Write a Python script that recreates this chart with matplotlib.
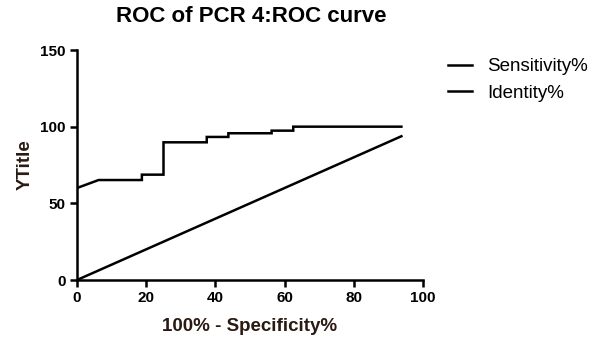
import numpy as np
import matplotlib
matplotlib.use("Agg")
import matplotlib.pyplot as plt

## ROC data (100% - Specificity%, Sensitivity%)
spec_x = [0, 6.25, 18.75, 18.75, 25, 25, 37.5, 37.5, 43.75, 43.75, 56.25, 56.25, 62.5, 62.5, 93.75]
sens_y = [60, 65.2, 65.2, 68.7, 68.7, 89.8, 89.8, 93.3, 93.3, 95.7, 95.7, 97.4, 97.4, 100, 100]
ident_x = [0, 93.75]
ident_y = [0, 93.75]

xticks = [0, 20, 40, 60, 80, 100]
yticks = [0, 50, 100, 150]

plt.rcParams['font.family'] = ['Liberation Sans', 'DejaVu Sans']

fig = plt.figure(figsize=(5.98, 3.43), dpi=100)
ax = fig.add_axes([77/598, 1 - 280/343, (423-77)/598, (280-50)/343])

ax.plot(spec_x, sens_y, color='black', lw=1.8, label='Sensitivity%', solid_joinstyle='miter')
ax.plot(ident_x, ident_y, color='black', lw=1.8, label='Identity%')

ax.set_xlim(0, 100)
ax.set_ylim(0, 150)
ax.set_xticks(xticks)
ax.set_yticks(yticks)
for s in ['top', 'right']:
    ax.spines[s].set_visible(False)
for s in ['left', 'bottom']:
    ax.spines[s].set_linewidth(1.8)
ax.tick_params(direction='out', length=5, width=1.8, labelsize=11, pad=3)
for lab in ax.get_xticklabels() + ax.get_yticklabels():
    lab.set_fontweight('bold')

ax.set_xlabel('100% - Specificity%', fontsize=13.5, fontweight='bold', color='#2a1a12', labelpad=9)
ax.set_ylabel('YTitle', fontsize=13.5, fontweight='bold', color='#2a1a12', labelpad=5)
fig.text(251/598, 1 - 16/343, 'ROC of PCR 4:ROC curve', fontsize=16, fontweight='bold',
         ha='center', va='center')

leg = fig.legend(loc='upper left', bbox_to_anchor=(448/598, 1 - 58/343), frameon=False,
                 fontsize=13.5, handlelength=1.3, handletextpad=0.8, labelspacing=0.5,
                 borderpad=0, borderaxespad=0)

fig.savefig("out.png", dpi=100)
